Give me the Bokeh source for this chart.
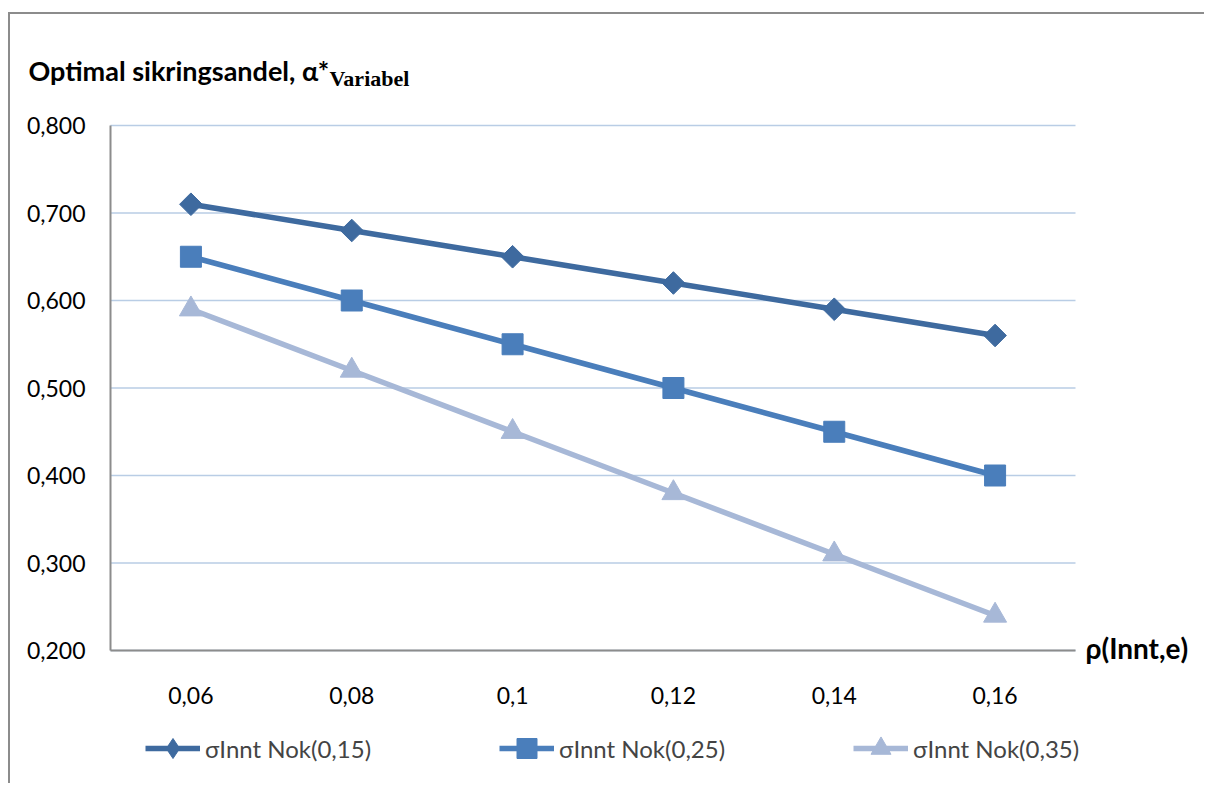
import math
from bokeh.plotting import figure
from bokeh.models import Range1d, FixedTicker, Legend, LegendItem, Label
from bokeh.embed import file_html
from bokeh.resources import INLINE

categories = ["0,06", "0,08", "0,1", "0,12", "0,14", "0,16"]
series_names = ["σInnt Nok(0,15)", "σInnt Nok(0,25)", "σInnt Nok(0,35)"]
s1 = [0.710, 0.680, 0.650, 0.620, 0.590, 0.560]
s2 = [0.650, 0.600, 0.550, 0.500, 0.450, 0.400]
s3 = [0.590, 0.520, 0.450, 0.380, 0.310, 0.240]
y_ticks = [0.2, 0.3, 0.4, 0.5, 0.6, 0.7, 0.8]
y_tick_labels = ["0,200", "0,300", "0,400", "0,500", "0,600", "0,700", "0,800"]
title_main = "Optimal sikringsandel, α*"
title_sub = "Variabel"
x_title = "ρ(Innt,e)"

colors = ["#3e6a9f", "#4a7ebb", "#a7b8d7"]
markers = ["square", "square", "triangle"]
legend_markers = ["diamond", "square", "triangle"]
angles = [math.pi / 4, 0, 0]
msizes = [16, 21, 23]
FONT = "Lato"

# ---- layout geometry (pixels) ----
W, H = 1196, 771            # figure size (page minus 10px left / 14px top border area)
OX, OY = 10, 14             # page offset of the figure
ncat = len(categories)
x_idx = list(range(ncat))
cat_w = 965 / ncat          # plot area width 965px split in categories
plot_left_px = 110
x_start = -0.5 - (plot_left_px - OX) / cat_w
x_end = x_start + W / cat_w
y_lo, y_hi = y_ticks[0], y_ticks[-1]
px_per_unit = 525 / (y_hi - y_lo)
y_start = y_lo - (OY + H - 650) / px_per_unit
y_end = y_start + H / px_per_unit

p = figure(width=W, height=H, output_backend="svg", toolbar_location=None,
           x_range=Range1d(x_start, x_end), y_range=Range1d(y_start, y_end),
           min_border=0)
p.title.visible = False
p.styles = {"margin-left": "8px", "margin-top": "12px",
            "border-left": "2px solid #8c8c8c", "border-top": "2px solid #8c8c8c"}
p.outline_line_color = None
p.xgrid.visible = False
p.ygrid.visible = False

# horizontal gridlines limited to the plot area
p.segment(x0=[-0.5] * len(y_ticks), x1=[ncat - 0.5] * len(y_ticks), y0=y_ticks, y1=y_ticks,
          line_color="#b9cde5", line_width=1.5)

p.xaxis.ticker = FixedTicker(ticks=x_idx)
p.xaxis.major_label_overrides = {i: c for i, c in zip(x_idx, categories)}
p.xaxis.fixed_location = y_lo
p.xaxis.bounds = (-0.5, ncat - 0.5)
p.yaxis.ticker = FixedTicker(ticks=y_ticks)
p.yaxis.major_label_overrides = {t: l for t, l in zip(y_ticks, y_tick_labels)}
p.yaxis.fixed_location = -0.5
p.yaxis.bounds = (y_lo, y_hi)

for ax in (p.xaxis, p.yaxis):
    ax.axis_line_color = "#8c8c8c"
    ax.axis_line_width = 2
    ax.major_tick_line_color = None
    ax.minor_tick_line_color = None
    ax.major_label_text_font = FONT
    ax.major_label_text_font_size = "23px"
    ax.major_label_text_color = "black"
p.yaxis.major_label_standoff = 19
p.xaxis.major_label_standoff = 30

items = []
for name, vals, c, m, lm, a, s in zip(series_names, [s1, s2, s3], colors, markers,
                                      legend_markers, angles, msizes):
    r1 = p.line(x_idx, vals, line_color=c, line_width=5.5)
    leg_r = None
    if lm != m:
        # legend marker (legend glyphs are drawn unrotated); sits hidden under the rotated squares
        leg_r = p.scatter(x_idx, vals, marker=lm, size=s, fill_color=c, line_color=c)
    r2 = p.scatter(x_idx, vals, marker=m, angle=a, size=s, fill_color=c, line_color=c)
    items.append(LegendItem(label=name, renderers=[r1, leg_r if leg_r is not None else r2]))

legend = Legend(items=items, orientation="horizontal", location=(135, 12),
                glyph_width=55, glyph_height=50, spacing=128, padding=0, margin=0,
                label_text_font=FONT, label_text_font_size="24px", label_standoff=5,
                border_line_color=None, background_fill_alpha=0)
p.add_layout(legend, "center")

p.add_layout(Label(x=18, y=715, x_units="screen", y_units="screen", text=title_main,
                   text_font=FONT, text_font_style="bold", text_font_size="27px",
                   text_baseline="alphabetic", text_color="black"))
p.add_layout(Label(x=319, y=707, x_units="screen", y_units="screen", text=title_sub,
                   text_font="Liberation Serif", text_font_style="bold", text_font_size="22px",
                   text_baseline="alphabetic", text_color="black"))
p.add_layout(Label(x=1075, y=138, x_units="screen", y_units="screen", text=x_title,
                   text_font=FONT, text_font_style="bold", text_font_size="28px",
                   text_baseline="middle", text_color="black"))

open("out.html", "w").write(file_html(p, INLINE))
